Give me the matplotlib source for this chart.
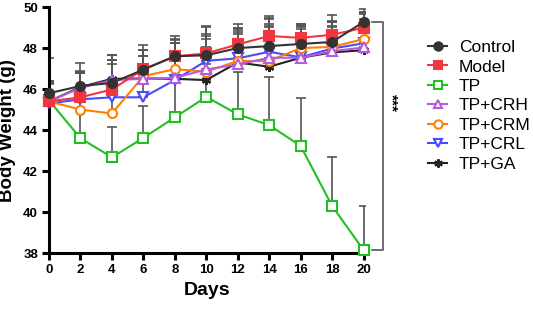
import numpy as np
import matplotlib
matplotlib.use("Agg")
import matplotlib.pyplot as plt
from matplotlib.lines import Line2D

plt.rcParams['font.family'] = ['Liberation Sans', 'DejaVu Sans']

days = [0, 2, 4, 6, 8, 10, 12, 14, 16, 18, 20]

groups = ['Control', 'Model', 'TP', 'TP+CRH', 'TP+CRM', 'TP+CRL', 'TP+GA']

control = [45.8, 46.15, 46.3, 46.95, 47.6, 47.65, 48.0, 48.1, 48.2, 48.3, 49.27]
model = [45.4, 45.6, 45.98, 46.97, 47.6, 47.74, 48.18, 48.59, 48.5, 48.65, 48.99]
tp = [45.45, 43.6, 42.67, 43.62, 44.62, 45.62, 44.77, 44.24, 43.23, 40.3, 38.15]
tp_crh = [45.4, 46.06, 46.44, 46.5, 46.55, 46.96, 47.2, 47.53, 47.53, 47.85, 48.03]
tp_crm = [45.4, 45.0, 44.81, 46.63, 46.97, 46.85, 47.37, 47.37, 48.0, 48.06, 48.44]
tp_crl = [45.3, 45.5, 45.6, 45.6, 46.44, 47.38, 47.5, 47.82, 47.55, 47.98, 48.23]
tp_ga = [45.4, 46.1, 46.5, 46.52, 46.5, 46.44, 47.3, 47.09, 47.53, 47.79, 47.9]

# upper SD only
control_err = [1.7, 1.1, 1.1, 1.2, 0.98, 1.45, 1.2, 1.48, 1.0, 1.3, 0.62]
model_err = [1.0, 1.2, 1.45, 0.95, 0.82, 0.96, 0.78, 0.86, 0.7, 0.65, 0.78]
tp_err = [0.8, 1.4, 1.5, 1.55, 1.7, 1.6, 2.08, 2.36, 2.35, 2.37, 2.15]
crh_err = [0.9, 0.75, 1.2, 1.1, 1.0, 1.1, 1.5, 1.9, 1.4, 1.2, 1.4]
crm_err = [0.95, 1.8, 2.4, 1.3, 1.3, 1.6, 1.6, 1.7, 1.1, 1.0, 1.2]
crl_err = [1.1, 1.4, 1.8, 2.0, 1.8, 1.2, 1.4, 1.2, 1.5, 1.3, 1.5]
ga_err = [1.0, 0.7, 1.15, 1.4, 1.9, 2.6, 1.5, 2.1, 1.6, 1.5, 1.85]

series = [control, model, tp, tp_crh, tp_crm, tp_crl, tp_ga]
errors = [control_err, model_err, tp_err, crh_err, crm_err, crl_err, ga_err]
colors = ['#333333', '#F2353F', '#22C022', '#B55BE0', '#FF8000', '#4A4AFF', '#222222']
markers = ['o', 's', 's', '^', 'o', 'v', (6, 2, 0)]
filled = [True, True, False, False, False, False, True]

fig = plt.figure(figsize=(5.33, 3.09), dpi=100)
ax = fig.add_axes([0.092, 0.181, 0.593, 0.796])

# draw in reverse so Control ends on top
for i in reversed(range(len(series))):
    y = np.array(series[i])
    e = np.array(errors[i])
    ax.errorbar(days, y, yerr=[np.zeros_like(e), e], fmt='none',
                ecolor='#555555', elinewidth=1.2, capsize=3.5, capthick=1.2, zorder=2)
for i in reversed(range(len(series))):
    mfc = colors[i] if filled[i] else 'white'
    ax.plot(days, series[i], color=colors[i], marker=markers[i], markersize=6.5,
            markerfacecolor=mfc, markeredgecolor=colors[i], markeredgewidth=1.5,
            linewidth=1.5, zorder=3 + (len(series) - i) * 0.1, clip_on=False)

ax.set_xlim(0, 20.1)
ax.set_ylim(38, 50)
ax.set_xticks(range(0, 21, 2))
ax.set_yticks(range(38, 51, 2))
for s in ['top', 'right']:
    ax.spines[s].set_visible(False)
for s in ['left', 'bottom']:
    ax.spines[s].set_linewidth(2.2)
ax.tick_params(width=2.2, length=5, labelsize=9.5, direction='out', pad=3)
for lab in ax.get_xticklabels() + ax.get_yticklabels():
    lab.set_fontweight('bold')
ax.set_xlabel('Days', fontsize=14, fontweight='bold', labelpad=4)
ax.set_ylabel('Body Weight (g)', fontsize=13.5, fontweight='bold', labelpad=5)

# significance bracket between Control and TP at day 20
bx0, bx1 = 20.55, 21.25
ax.plot([bx0, bx1, bx1, bx0], [control[-1], control[-1], tp[-1], tp[-1]],
        color='#555555', linewidth=1.2, clip_on=False)
ax.text(21.8, 45.3, '***', rotation=-90, ha='center', va='center',
        fontsize=11, fontweight='bold', clip_on=False)

handles = []
for i in range(len(series)):
    mfc = colors[i] if filled[i] else 'white'
    handles.append(Line2D([], [], color=colors[i], marker=markers[i], markersize=6,
                          markerfacecolor=mfc, markeredgecolor=colors[i],
                          markeredgewidth=1.5, linewidth=1.5))
fig.legend(handles, groups, loc='upper left', bbox_to_anchor=(0.803, 0.871),
           frameon=False, fontsize=12.5, handlelength=1.1, handletextpad=0.69,
           labelspacing=0.25, borderpad=0, borderaxespad=0)

fig.savefig('out.png', dpi=100)
